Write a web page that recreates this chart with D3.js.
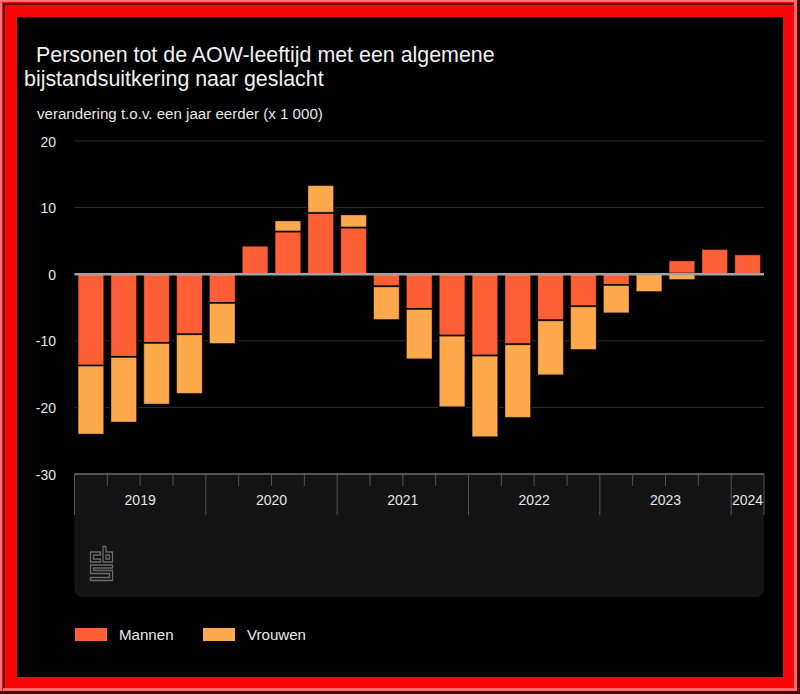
<!DOCTYPE html>
<html>
<head>
<meta charset="utf-8">
<script src="https://cdn.jsdelivr.net/npm/d3@7"></script>
<style>
  html, body { margin: 0; padding: 0; background: #000; }
  svg { display: block; font-family: "Liberation Sans", Arial, sans-serif; }
</style>
</head>
<body>
<svg id="chart" width="800" height="694"></svg>
<script>
const width = 800;
const height = 694;

const quarters = ["2019-1", "2019-2", "2019-3", "2019-4", "2020-1", "2020-2", "2020-3", "2020-4",
  "2021-1", "2021-2", "2021-3", "2021-4", "2022-1", "2022-2", "2022-3", "2022-4",
  "2023-1", "2023-2", "2023-3", "2023-4", "2024-1"];
const mannen = [-13.8, -12.5, -10.4, -9.1, -4.4, 4.2, 6.5, 9.3, 7.1, -1.9, -5.3, -9.3,
  -12.3, -10.6, -7.0, -4.9, -1.7, 0, 2.0, 3.7, 2.9];
const vrouwen = [-10.2, -9.7, -9.1, -8.8, -6.0, 0, 1.5, 4.0, 1.8, -4.9, -7.4, -10.6,
  -12.1, -10.9, -8.1, -6.4, -4.1, -2.6, -0.8, 0, 0];
const years = ["2019", "2020", "2021", "2022", "2023", "2024"];
const yTicks = [20, 10, 0, -10, -20, -30];
const seriesNames = ["Mannen", "Vrouwen"];

const colors = { Mannen: "#ff5f36", Vrouwen: "#ffa94d" };

const svg = d3.select("#chart");

// red picture frame with bevel lines
svg.append("rect").attr("width", width).attr("height", height).attr("fill", "#fa0808");
svg.append("path").attr("d", "M0,0H800V2H2V694H0Z").attr("fill", "#ff7474");
svg.append("path").attr("d", "M3,3H794V5H5V688H3Z").attr("fill", "#5a0000");
svg.append("path").attr("d", "M797,0V691H3V688H794V0Z").attr("fill", "#ff6a6a");
svg.append("path").attr("d", "M800,0V694H0V691H797V0Z").attr("fill", "#4a0000");
svg.append("rect").attr("x", 17).attr("y", 17).attr("width", 766).attr("height", 660).attr("fill", "#000");

const x = d3.scaleBand().domain(quarters).range([74.5, 764]).paddingInner(0.22).paddingOuter(0.11);
const y = d3.scaleLinear().domain([-30, 20]).range([474, 141]);

// gray panel behind the time axis
const panelTop = y(-30);
svg.append("path")
    .attr("d", `M74.5,${panelTop}H764V589a8,8 0 0 1 -8,8H82.5a8,8 0 0 1 -8,-8Z`)
    .attr("fill", "#141414");

// title
svg.append("g").attr("fill", "#f0f0f0").attr("font-size", 21.4)
  .selectAll("text")
  .data([["Personen tot de AOW-leeftijd met een algemene", 36, 62], ["bijstandsuitkering naar geslacht", 24, 86]])
  .join("text")
    .attr("x", d => d[1]).attr("y", d => d[2]).text(d => d[0]);

svg.append("text").attr("x", 37).attr("y", 119).attr("fill", "#e6e6e6").attr("font-size", 15.1)
    .text("verandering t.o.v. een jaar eerder (x 1 000)");

// y axis with grid lines
const yAxis = d3.axisLeft(y).tickValues(yTicks).tickSize(0).tickPadding(0).tickFormat(d => String(d));
svg.append("g")
    .attr("transform", "translate(56,0)")
    .call(yAxis)
    .call(g => g.select(".domain").remove())
    .call(g => g.selectAll("text").attr("fill", "#e6e6e6").attr("font-size", 14)
        .attr("font-family", "Liberation Sans").attr("dy", "0.36em"));

svg.append("g").selectAll("line")
  .data(yTicks.filter(d => d !== 0 && d !== -30))
  .join("line")
    .attr("x1", 74.5).attr("x2", 764)
    .attr("y1", d => y(d)).attr("y2", d => y(d))
    .attr("stroke", "#2e2e2e").attr("stroke-width", 1);

// stacked bars, men start from zero and women continue from the men
const bars = svg.append("g");
quarters.forEach((q, i) => {
  const m = mannen[i];
  const v = vrouwen[i];
  const vStart = (m > 0) === (v > 0) ? m : 0;
  [["Mannen", 0, m], ["Vrouwen", vStart, vStart + v]].forEach(([name, a, b]) => {
    if (a === b) return;
    const barY = y(Math.max(a, b));
    const barH = Math.abs(y(a) - y(b));
    // black halo outside the bar, breaks the grid lines
    bars.append("rect")
        .attr("x", x(q)).attr("width", x.bandwidth())
        .attr("y", barY).attr("height", barH)
        .attr("fill", colors[name])
        .attr("stroke", "#000")
        .attr("stroke-width", 3)
        .attr("paint-order", "stroke");
    // slightly darker edge
    bars.append("rect")
        .attr("x", x(q)).attr("width", x.bandwidth())
        .attr("y", barY).attr("height", barH)
        .attr("fill", "none")
        .attr("stroke", "#000")
        .attr("stroke-opacity", 0.4)
        .attr("stroke-width", 1);
  });
});

svg.append("line").attr("x1", 74.5).attr("x2", 764).attr("y1", y(0)).attr("y2", y(0))
    .attr("stroke", "#a3a3a3").attr("stroke-width", 2.5);

// time axis: quarter ticks and year separators
const step = x.step();
const axisLeft = 74.5;
svg.append("line").attr("x1", axisLeft).attr("x2", 764).attr("y1", y(-30)).attr("y2", y(-30))
    .attr("stroke", "#6e6e6e").attr("stroke-width", 1.5);

const tickIdx = d3.range(0, quarters.length + 1);
svg.append("g").selectAll("line")
  .data(tickIdx)
  .join("line")
    .attr("x1", i => axisLeft + i * step).attr("x2", i => axisLeft + i * step)
    .attr("y1", y(-30))
    .attr("y2", i => (i % 4 === 0 || i === quarters.length) ? y(-30) + 41 : y(-30) + 12)
    .attr("stroke", "#555").attr("stroke-width", 1);

svg.append("g").attr("fill", "#e6e6e6").attr("font-size", 14).attr("text-anchor", "middle")
  .selectAll("text")
  .data(years)
  .join("text")
    .attr("x", (d, i) => {
      const first = i * 4;
      const last = Math.min(first + 4, quarters.length);
      return axisLeft + (first + last) / 2 * step;
    })
    .attr("y", 505)
    .text(d => d);

// cbs logo, outline only
svg.append("g").attr("transform", "translate(90,546)")
    .attr("fill", "none").attr("stroke", "#6a6a6a").attr("stroke-width", 1.3)
  .selectAll("path")
  .data([
    "M0.5,6H10.5V9H3.5V13H10.5V16H0.5Z",
    "M13,0.5H16V6H22.5V16H13Z M16,9V13H19.5V9Z",
    "M0.5,19H22.5V22H3.5V24.5H22.5V34.5H0.5V31.5H19.5V27.5H0.5Z"
  ])
  .join("path")
    .attr("d", d => d);

// legend
const legendX = [75, 203];
const legend = svg.append("g").selectAll("g").data(seriesNames).join("g")
    .attr("transform", (d, i) => `translate(${legendX[i]},628)`);
legend.append("rect").attr("width", 32).attr("height", 13)
    .attr("fill", d => colors[d]);
legend.append("text").attr("x", 44).attr("y", 11.5)
    .attr("fill", "#e6e6e6").attr("font-size", 15.1)
    .text(d => d);
</script>
</body>
</html>
